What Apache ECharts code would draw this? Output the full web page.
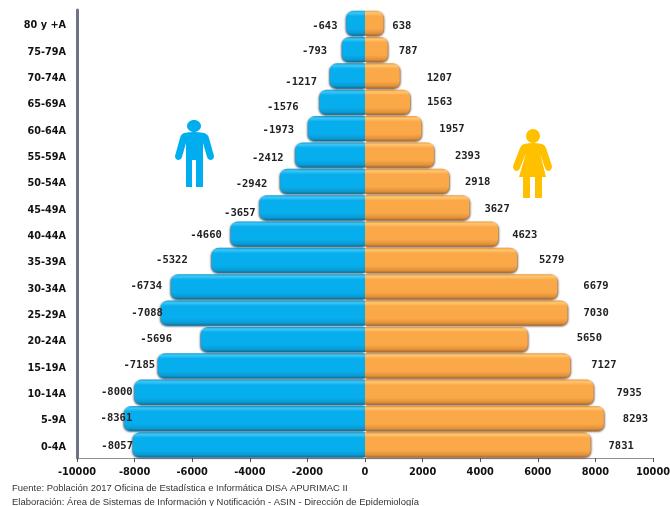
<!DOCTYPE html>
<html><head><meta charset="utf-8">
<style>html,body{margin:0;padding:0;background:#fff}#c{width:670px;height:506px}</style>
<script src="https://cdn.jsdelivr.net/npm/echarts@6/dist/echarts.min.js"></script>
</head><body><div id="c"></div>
<script>
const categories=['0-4A','5-9A','10-14A','15-19A','20-24A','25-29A','30-34A','35-39A','40-44A','45-49A','50-54A','55-59A','60-64A','65-69A','70-74A','75-79A','80 y +A'];
const men=[-8057,-8361,-8000,-7185,-5696,-7088,-6734,-5322,-4660,-3657,-2942,-2412,-1973,-1576,-1217,-793,-643];
const women=[7831,8293,7935,7127,5650,7030,6679,5279,4623,3627,2918,2393,1957,1563,1207,787,638];
const footer1='Fuente: Población 2017 Oficina de Estadística e Informática DISA APURIMAC II';
const footer2='Elaboración: Área de Sistemas de Información y Notificación - ASIN - Dirección de Epidemiología';

// hand-placed label layout of the original
const menGap=[0,-8,2,3,29,-2,9,24,9,4,13,12,14,21,13,15,9];
const menDy=[1,0,0,0,0,0,0,0,1,6,3,3,2,5,6,2,3];
const womenGap=[18,19,23,21,49,16,26,22,14,15,16,21,18,17,27,11,9];
const womenDy=[1,1,1,0,-1,0,0,0,1,2,1,1,1,0,2,2,3];
const withLabel=(vals,gap,dy)=>vals.map((v,i)=>({value:v,label:{distance:gap[i],offset:[0,dy[i]]}}));

const manPath='M184 133 Q194 131 204 133 Q208 134 209 138 L214 156 Q214 159 211 160 Q208 160 207 157 L203 143 L203 187 L196 187 L196 160 L192 160 L192 187 L186 187 L186 143 L182 157 Q181 160 178 160 Q175 159 175 156 L180 138 Q181 134 184 133 Z';
const womanPath='M524 144 Q533 142 542 144 Q545 145 546 148 L552 166 Q552 170 549 171 Q546 171 545 168 L540 153 L546 177 L542 177 L542 198 L535 198 L535 177 L530 177 L530 198 L523 198 L523 177 L519 177 L526 153 L520 168 Q519 171 516 171 Q513 170 513 166 L520 148 Q521 145 524 144 Z';
echarts.graphic.registerShape('manIcon',echarts.graphic.extendPath(manPath,{}));
echarts.graphic.registerShape('womanIcon',echarts.graphic.extendPath(womanPath,{}));

const chart=echarts.init(document.getElementById('c'),null,{renderer:'canvas'});
const grad=(a,b,c,d,e)=>new echarts.graphic.LinearGradient(0,0,0,1,[
 {offset:0,color:a},{offset:.09,color:b},{offset:.22,color:c},{offset:.72,color:c},{offset:.9,color:d},{offset:1,color:e}]);
const blue=grad('#1da3d6','#3cc6f6','#06aeee','#0a9ad3','#0a6d98');
const orange=grad('#f0a04a','#ffc670','#fba848','#e2913a','#a8682b');
const label={show:true,fontFamily:'DejaVu Sans Mono',fontSize:10.5,fontWeight:'bold',color:'#222'};
chart.setOption({
 animation:false,backgroundColor:'#fff',
 grid:{left:77,right:17,top:10,bottom:48,outerBoundsMode:'none'},
 xAxis:{type:'value',min:-10000,max:10000,interval:2000,splitLine:{show:false},
  axisLine:{show:true,lineStyle:{color:'#8a8f98',width:1}},axisTick:{show:true,length:4,lineStyle:{color:'#555'}},
  axisLabel:{fontFamily:'DejaVu Sans',fontWeight:'bold',fontSize:9.8,color:'#111',margin:9,hideOverlap:false,formatter:v=>String(v)}},
 yAxis:{type:'category',data:categories,axisTick:{show:false},
  axisLine:{show:true,onZero:false,lineStyle:{color:'#6f7484',width:3}},
  axisLabel:{fontFamily:'DejaVu Sans',fontWeight:'bold',fontSize:9.7,color:'#111',margin:11,verticalAlign:'top',lineHeight:5}},
 series:[
  {name:'Hombres',type:'bar',stack:'p',data:withLabel(men,menGap,menDy),barCategoryGap:'5%',
   itemStyle:{color:blue,borderRadius:[7,0,0,7],shadowColor:'rgba(0,50,80,.7)',shadowBlur:2,shadowOffsetX:-1,shadowOffsetY:1},
   label:Object.assign({},label,{position:'left'})},
  {name:'Mujeres',type:'bar',stack:'p',data:withLabel(women,womenGap,womenDy),barCategoryGap:'5%',
   itemStyle:{color:orange,borderRadius:[0,7,7,0],shadowColor:'rgba(90,50,10,.7)',shadowBlur:2,shadowOffsetX:1,shadowOffsetY:1},
   label:Object.assign({},label,{position:'right'})}
 ],
 graphic:[
  {type:'text',x:12,y:484,style:{text:footer1,font:'9.45px "Liberation Sans"',fill:'#333'}},
  {type:'text',x:12,y:498,style:{text:footer2,font:'9.45px "Liberation Sans"',fill:'#333'}},
  {type:'ellipse',shape:{cx:194,cy:126,rx:7,ry:6},style:{fill:'#00aeef'}},
  {type:'manIcon',style:{fill:'#00aeef'}},
  {type:'circle',shape:{cx:533,cy:136,r:7},style:{fill:'#ffc000'}},
  {type:'womanIcon',style:{fill:'#ffc000'}}
 ]
});
</script></body></html>
